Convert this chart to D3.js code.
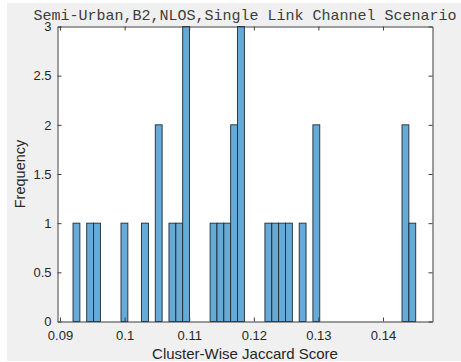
<!DOCTYPE html>
<html>
<head>
<meta charset="utf-8">
<script src="https://cdn.jsdelivr.net/npm/d3@7"></script>
<style>
  html, body { margin: 0; padding: 0; background: #ffffff; }
  svg { display: block; }
  .tick text { font-family: "Liberation Sans", Arial, Helvetica, sans-serif; }
</style>
</head>
<body>
<svg id="chart" width="461" height="362"></svg>
<script>
// Histogram of cluster-wise Jaccard scores: left edge of each occupied bin and its count
const binWidth = 0.001061;
const binStarts = [
  0.092012, 0.094134, 0.095195, 0.099439, 0.102622, 0.104744, 0.106866,
  0.107927, 0.108988, 0.113232, 0.114293, 0.115354, 0.116415, 0.117476,
  0.121720, 0.122781, 0.123842, 0.124903, 0.127025, 0.129147, 0.142940,
  0.144001
];
const binCounts = [
  1, 1, 1, 1, 1, 2, 1,
  1, 3, 1, 1, 1, 2, 3,
  1, 1, 1, 1, 1, 2, 2,
  1
];

const xTicks = [0.09, 0.10, 0.11, 0.12, 0.13, 0.14];
const xTickLabels = ["0.09", "0.1", "0.11", "0.12", "0.13", "0.14"];
const yTicks = [0, 0.5, 1, 1.5, 2, 2.5, 3];
const yTickLabels = ["0", "0.5", "1", "1.5", "2", "2.5", "3"];

const titleText = "Semi-Urban,B2,NLOS,Single Link Channel Scenario";
const xLabelText = "Cluster-Wise Jaccard Score";
const yLabelText = "Frequency";

const bins = binStarts.map((s, i) => ({ x0: s, x1: s + binWidth, count: binCounts[i] }));

const svg = d3.select("#chart");
const axisColor = "#404040";
const textColor = "#262626";

// plot box
const boxLeft = 57.5, boxRight = 432.5, boxTop = 26.5, boxBottom = 321.5;

const x = d3.scaleLinear().domain([0.08961, 0.14766]).range([boxLeft, boxRight]);
const y = d3.scaleLinear().domain([0, 3]).range([boxBottom, boxTop]);

// figure background and white axes area
svg.append("rect").attr("x", 7).attr("y", 3).attr("width", 454).attr("height", 358)
  .attr("fill", "#f0f0f0");
svg.append("rect").attr("x", boxLeft).attr("y", boxTop)
  .attr("width", boxRight - boxLeft).attr("height", boxBottom - boxTop).attr("fill", "#ffffff");

// bars
svg.append("g").selectAll("rect").data(bins).join("rect")
  .attr("x", d => x(d.x0))
  .attr("y", d => y(d.count))
  .attr("width", d => x(d.x1) - x(d.x0))
  .attr("height", d => y(0) - y(d.count))
  .attr("fill", "#66aad7")
  .attr("stroke", "#1c2a36")
  .attr("stroke-width", 0.9);

function styleAxis(g) {
  g.selectAll(".domain").attr("stroke", axisColor).attr("stroke-width", 1);
  g.selectAll(".tick line").attr("stroke", axisColor).attr("stroke-width", 1);
  g.selectAll(".tick text").attr("fill", textColor).attr("font-size", 13);
}

// bottom axis with labels
svg.append("g").attr("transform", `translate(0,${boxBottom})`)
  .call(d3.axisBottom(x).tickValues(xTicks)
    .tickFormat((d, i) => xTickLabels[i]).tickSizeInner(-4).tickSizeOuter(0).tickPadding(9))
  .call(styleAxis);

// top axis (ticks only)
svg.append("g").attr("transform", `translate(0,${boxTop})`)
  .call(d3.axisTop(x).tickValues(xTicks).tickFormat("").tickSizeInner(-4).tickSizeOuter(0))
  .call(styleAxis);

// left axis with labels
svg.append("g").attr("transform", `translate(${boxLeft},0)`)
  .call(d3.axisLeft(y).tickValues(yTicks)
    .tickFormat((d, i) => yTickLabels[i]).tickSizeInner(-4).tickSizeOuter(0).tickPadding(6))
  .call(styleAxis);

// right axis (ticks only)
svg.append("g").attr("transform", `translate(${boxRight},0)`)
  .call(d3.axisRight(y).tickValues(yTicks).tickFormat("").tickSizeInner(-4).tickSizeOuter(0))
  .call(styleAxis);

// title
svg.append("text")
  .attr("x", (boxLeft + boxRight) / 2).attr("y", 20)
  .attr("text-anchor", "middle")
  .attr("font-family", "'Liberation Mono', 'Courier New', monospace")
  .attr("font-size", 15)
  .attr("fill", "#3c3c3c")
  .text(titleText);

// axis labels
svg.append("text")
  .attr("x", (boxLeft + boxRight) / 2).attr("y", 358.5)
  .attr("text-anchor", "middle")
  .attr("font-family", "'Liberation Sans', Arial, Helvetica, sans-serif")
  .attr("font-size", 15)
  .attr("fill", textColor)
  .text(xLabelText);

svg.append("text")
  .attr("transform", `translate(25,${(boxTop + boxBottom) / 2}) rotate(-90)`)
  .attr("text-anchor", "middle")
  .attr("font-family", "'Liberation Sans', Arial, Helvetica, sans-serif")
  .attr("font-size", 14.5)
  .attr("fill", textColor)
  .text(yLabelText);
</script>
</body>
</html>
